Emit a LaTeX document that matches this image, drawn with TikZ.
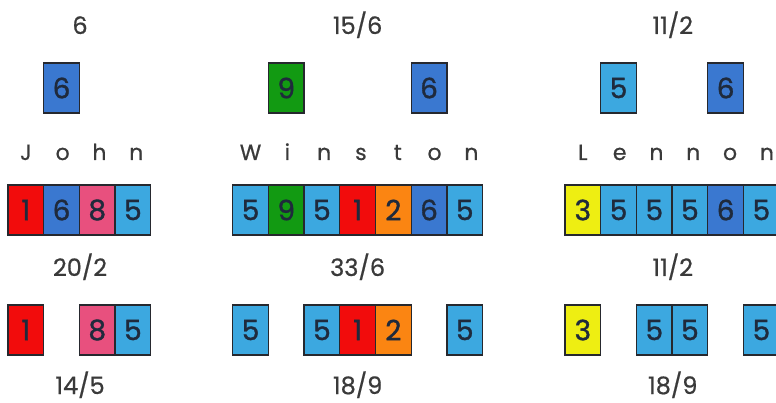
\documentclass[tikz,border=0pt]{standalone}
\usepackage{fontspec}
\setmainfont{Poppins}
\usetikzlibrary{positioning}

\definecolor{cellred}{HTML}{F20C0C}
\definecolor{cellblue}{HTML}{3A78D0}
\definecolor{celllight}{HTML}{3CA8E0}
\definecolor{cellpink}{HTML}{E8507E}
\definecolor{cellgreen}{HTML}{129A12}
\definecolor{cellorange}{HTML}{FB8512}
\definecolor{cellyellow}{HTML}{EEEE12}
\definecolor{cellline}{HTML}{26282E}
\definecolor{digit}{HTML}{1F2A3C}
\definecolor{labelgray}{HTML}{3A3A3A}

\begin{document}
\begin{tikzpicture}[x=1pt, y=-1pt,
  cell/.style={draw=cellline, line width=1.3pt, minimum width=35.7pt, minimum height=50pt,
    inner sep=0pt, text=digit, font=\fontsize{28}{28}\selectfont\addfontfeatures{FakeBold=1.2}},
  letter/.style={anchor=base, inner sep=0pt, text=labelgray, font=\fontsize{22}{22}\selectfont\addfontfeatures{FakeBold=0.6}},
  total/.style={anchor=base, inner sep=0pt, text=labelgray, font=\fontsize{24}{24}\selectfont\addfontfeatures{FakeBold=0.6}}]
\useasboundingbox (0,0) rectangle (776,403);

% Row heights
\coordinate (rowtop) at (0,88);
\coordinate (rowbot) at (0,330);
\coordinate (basetop) at (0,34);
\coordinate (basemid) at (0,276);
\coordinate (basebot) at (0,394);

% John
\foreach \c/\d [count=\i] in {cellred/1,cellblue/6,cellpink/8,celllight/5}
  \node[cell, fill=\c] (j\i) at ({25.85+35.7*(\i-1)},210) {\d};
\foreach \t [count=\i] in {J,o,h,n}
  \node[letter] (jl\i) at ([xshift={(\i-1)*36.8pt}, yshift=50pt]j1.center) {\t};
\node[cell, fill=cellblue] (jt2) at (j2 |- rowtop) {6};
\foreach \i/\c/\d in {1/cellred/1,3/cellpink/8,4/celllight/5}
  \node[cell, fill=\c] (jb\i) at (j\i |- rowbot) {\d};
\node[total] (jsumtop) at (j2.east |- basetop) {6};
\node[total] (jsummid) at (j2.east |- basemid) {20/2};
\node[total] (jsumbot) at (j2.east |- basebot) {14/5};

% Winston
\foreach \c/\d [count=\i] in {celllight/5,cellgreen/9,celllight/5,cellred/1,cellorange/2,cellblue/6,celllight/5}
  \node[cell, fill=\c] (w\i) at ({250.55+35.7*(\i-1)},210) {\d};
\foreach \t [count=\i] in {W,i,n,s,t,o,n}
  \node[letter] (wl\i) at ([xshift={(\i-1)*36.8pt}, yshift=50pt]w1.center) {\t};
\foreach \i/\c/\d in {2/cellgreen/9,6/cellblue/6}
  \node[cell, fill=\c] (wt\i) at (w\i |- rowtop) {\d};
\foreach \i/\c/\d in {1/celllight/5,3/celllight/5,4/cellred/1,5/cellorange/2,7/celllight/5}
  \node[cell, fill=\c] (wb\i) at (w\i |- rowbot) {\d};
\node[total] (wsumtop) at (w4 |- basetop) {15/6};
\node[total] (wsummid) at (w4 |- basemid) {33/6};
\node[total] (wsumbot) at (w4 |- basebot) {18/9};

% Lennon
\foreach \c/\d [count=\i] in {cellyellow/3,celllight/5,celllight/5,celllight/5,cellblue/6,celllight/5}
  \node[cell, fill=\c] (l\i) at ({582.85+35.7*(\i-1)},210) {\d};
\foreach \t [count=\i] in {L,e,n,n,o,n}
  \node[letter] (ll\i) at ([xshift={(\i-1)*36.8pt}, yshift=50pt]l1.center) {\t};
\foreach \i/\c/\d in {2/celllight/5,5/cellblue/6}
  \node[cell, fill=\c] (lt\i) at (l\i |- rowtop) {\d};
\foreach \i/\c/\d in {1/cellyellow/3,3/celllight/5,4/celllight/5,6/celllight/5}
  \node[cell, fill=\c] (lb\i) at (l\i |- rowbot) {\d};
\node[total] (lsumtop) at (l3.east |- basetop) {11/2};
\node[total] (lsummid) at (l3.east |- basemid) {11/2};
\node[total] (lsumbot) at (l3.east |- basebot) {18/9};
\end{tikzpicture}
\end{document}
